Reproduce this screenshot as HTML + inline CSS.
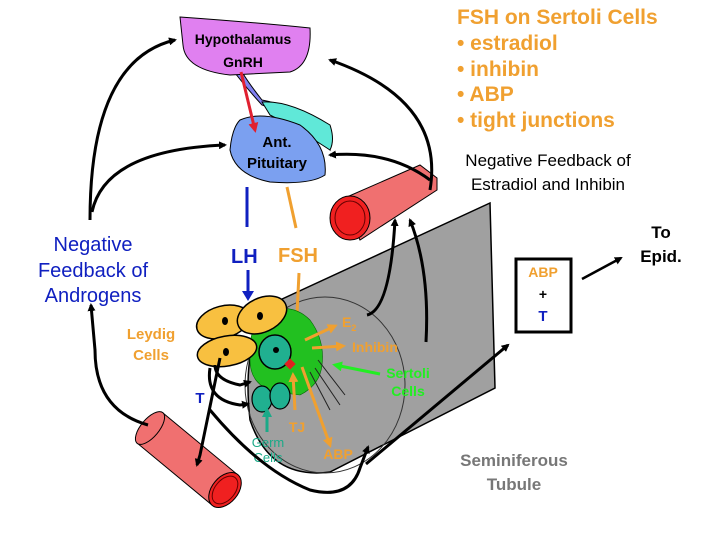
<!DOCTYPE html>
<html><head><style>
body{margin:0;background:#fff;width:720px;height:540px;overflow:hidden}
svg{display:block}
text{font-family:"Liberation Sans",Arial,sans-serif;font-weight:bold}
</style></head><body>
<svg width="720" height="540" viewBox="0 0 720 540" xmlns="http://www.w3.org/2000/svg">
<defs>
<marker id="ab" markerWidth="8" markerHeight="8" refX="6" refY="4" orient="auto" markerUnits="userSpaceOnUse"><path d="M0,0 L8,4 L0,8 Z" fill="#000"/></marker>
<marker id="ao" markerWidth="10" markerHeight="10" refX="7" refY="5" orient="auto" markerUnits="userSpaceOnUse"><path d="M0,0 L10,5 L0,10 Z" fill="#f0a030"/></marker>
<marker id="ar" markerWidth="10" markerHeight="10" refX="7" refY="5" orient="auto" markerUnits="userSpaceOnUse"><path d="M0,0 L10,5 L0,10 Z" fill="#e02030"/></marker>
<marker id="ag" markerWidth="10" markerHeight="10" refX="7" refY="5" orient="auto" markerUnits="userSpaceOnUse"><path d="M0,0 L10,5 L0,10 Z" fill="#22ee22"/></marker>
<marker id="an" markerWidth="10" markerHeight="10" refX="7" refY="5" orient="auto" markerUnits="userSpaceOnUse"><path d="M0,0 L10,5 L0,10 Z" fill="#1aaa88"/></marker>
<marker id="au" markerWidth="10" markerHeight="12" refX="7" refY="6" orient="auto" markerUnits="userSpaceOnUse"><path d="M0,0 L10,6 L0,12 Z" fill="#1020c0"/></marker>
</defs>
<!-- tubule -->
<path d="M490,203 L495,388 L330,472 Q270,480 250,420 Q240,330 280,300 Z" fill="#a0a0a0" stroke="#000" stroke-width="1.5"/>
<ellipse cx="325" cy="385" rx="80" ry="88" fill="none" stroke="#333" stroke-width="1"/>
<!-- vessels -->
<path d="M340,200 L420,165 L437,178 L437,190 L360,240 Z" fill="#f07070" stroke="#000"/>
<ellipse cx="350" cy="218" rx="20" ry="22" fill="#f02020" stroke="#000"/>
<ellipse cx="350" cy="218" rx="15" ry="17" fill="none" stroke="#600"/>
<path d="M163,413 L238,475 L212,505 L137,443 Z" fill="#f07070" stroke="#000"/>
<ellipse cx="150" cy="428" rx="9" ry="20" transform="rotate(40 150 428)" fill="#f07070" stroke="#000"/>
<ellipse cx="225" cy="490" rx="13" ry="20" transform="rotate(40 225 490)" fill="#f02020" stroke="#000"/>
<ellipse cx="225" cy="490" rx="10" ry="16" transform="rotate(40 225 490)" fill="none" stroke="#600"/>
<!-- hypothalamus/pituitary -->
<path d="M242,72 Q250,85 262,100 Q290,105 330,130 L330,150 Q300,120 275,110 L262,105 Q248,90 235,73 Z" fill="#8080f0" stroke="#000"/>
<path d="M262,102 Q290,100 330,125 Q335,140 330,150 Q300,130 270,115 Z" fill="#60e8d8" stroke="#000"/>
<path d="M180,17 Q250,22 310,28 Q312,65 290,72 L230,75 Q185,70 183,45 Z" fill="#e080f0" stroke="#000"/>
<path d="M240,120 Q262,110 300,125 Q328,145 325,175 Q310,185 270,182 Q235,175 230,150 Q232,128 240,120 Z" fill="#7ba0f0" stroke="#000"/>
<line x1="241" y1="72" x2="255" y2="130" stroke="#e02030" stroke-width="3" marker-end="url(#ar)"/>
<text x="243" y="44" font-size="14" text-anchor="middle">Hypothalamus</text>
<text x="243" y="67" font-size="14" text-anchor="middle">GnRH</text>
<text x="277" y="147" font-size="15" text-anchor="middle">Ant.</text>
<text x="277" y="168" font-size="15" text-anchor="middle">Pituitary</text>
<!-- LH FSH -->
<line x1="247" y1="187" x2="247" y2="227" stroke="#1020c0" stroke-width="3"/>
<line x1="248" y1="270" x2="248" y2="298" stroke="#1020c0" stroke-width="3" marker-end="url(#au)"/>
<line x1="287" y1="187" x2="296" y2="228" stroke="#f0a030" stroke-width="3"/>
<line x1="299" y1="273" x2="296" y2="335" stroke="#f0a030" stroke-width="3" marker-end="url(#ao)"/>
<text x="231" y="263" font-size="20" fill="#1020c0">LH</text>
<text x="278" y="262" font-size="20" fill="#f0a030">FSH</text>
<!-- sertoli green -->
<path d="M262,315 Q290,300 310,320 Q325,340 322,365 Q320,385 300,395 L275,392 Q250,385 250,360 Q248,330 262,315 Z" fill="#22c020" stroke="#060" stroke-width="0.6"/>
<path d="M318,360 L345,395 M315,368 L340,405 M310,372 L330,410" stroke="#222" stroke-width="1"/>
<!-- Leydig -->
<ellipse cx="223" cy="322" rx="27" ry="16" transform="rotate(-15 223 322)" fill="#f8c040" stroke="#000" stroke-width="1.5"/>
<ellipse cx="262" cy="315" rx="26" ry="17" transform="rotate(-25 262 315)" fill="#f8c040" stroke="#000" stroke-width="1.5"/>
<ellipse cx="227" cy="351" rx="30" ry="15" transform="rotate(-10 227 351)" fill="#f8c040" stroke="#000" stroke-width="1.5"/>
<ellipse cx="225" cy="321" rx="3" ry="4" fill="#000"/><ellipse cx="260" cy="316" rx="3" ry="4" fill="#000"/><ellipse cx="226" cy="352" rx="3" ry="4" fill="#000"/>
<!-- germ cells -->
<ellipse cx="275" cy="352" rx="16" ry="17" fill="#20b090" stroke="#000" stroke-width="1.5"/>
<circle cx="276" cy="350" r="3" fill="#000"/>
<ellipse cx="262" cy="399" rx="10" ry="13" fill="#20b090" stroke="#000" stroke-width="1.2"/>
<ellipse cx="280" cy="396" rx="10" ry="13" fill="#20b090" stroke="#000" stroke-width="1.2"/>
<rect x="286" y="360" width="8" height="8" fill="#e02020" transform="rotate(45 290 364)"/>
<!-- orange arrows -->
<line x1="305" y1="340" x2="335" y2="326" stroke="#f0a030" stroke-width="3" marker-end="url(#ao)"/>
<line x1="312" y1="348" x2="343" y2="346" stroke="#f0a030" stroke-width="3" marker-end="url(#ao)"/>
<line x1="302" y1="367" x2="330" y2="445" stroke="#f0a030" stroke-width="3" marker-end="url(#ao)"/>
<line x1="295" y1="410" x2="293" y2="375" stroke="#f0a030" stroke-width="3" marker-end="url(#ao)"/>
<line x1="380" y1="374" x2="335" y2="365" stroke="#22ee22" stroke-width="3" marker-end="url(#ag)"/>
<line x1="267" y1="432" x2="267" y2="410" stroke="#1aaa88" stroke-width="3" marker-end="url(#an)"/>
<text x="342" y="327" font-size="14" fill="#f0a030">E<tspan font-size="9" dy="4">2</tspan></text>
<text x="352" y="352" font-size="14" fill="#f0a030">Inhibin</text>
<text x="408" y="378" font-size="14" fill="#22ee22" text-anchor="middle">Sertoli</text>
<text x="408" y="396" font-size="14" fill="#22ee22" text-anchor="middle">Cells</text>
<text x="297" y="432" font-size="14" fill="#f0a030" text-anchor="middle">TJ</text>
<text x="338" y="459" font-size="14" fill="#f0a030" text-anchor="middle">ABP</text>
<text x="268" y="447" font-size="13" fill="#1aaa88" text-anchor="middle" style="font-weight:normal">Germ</text>
<text x="268" y="462" font-size="13" fill="#1aaa88" text-anchor="middle" style="font-weight:normal">Cells</text>
<!-- black arrows -->
<g fill="none" stroke="#000" stroke-width="3">
<path d="M215,365 Q215,380 240,385 L250,382" marker-end="url(#ab)"/>
<path d="M210,368 Q205,400 240,405 L248,404" marker-end="url(#ab)"/>
<path d="M220,358 L200,455 L197,465" marker-end="url(#ab)"/>
<path d="M210,410 Q260,470 310,490 Q350,500 360,468 L368,447" marker-end="url(#ab)"/>
<path d="M366,464 L508,345" marker-end="url(#ab)"/>
<path d="M367,315 Q390,310 395,220" marker-end="url(#ab)"/>
<path d="M426,342 Q430,270 410,220" marker-end="url(#ab)"/>
<path d="M430,190 Q445,100 330,60" marker-end="url(#ab)"/>
<path d="M430,180 Q390,150 330,155" marker-end="url(#ab)"/>
<path d="M90,220 Q90,60 175,40" marker-end="url(#ab)"/>
<path d="M92,212 Q105,150 225,145" marker-end="url(#ab)"/>
<path d="M148,425 Q95,410 95,350 L91,305" marker-end="url(#ab)"/>
<path d="M582,279 L621,258" stroke-width="2.5" marker-end="url(#ab)"/>
</g>
<rect x="516" y="259" width="55" height="73" fill="#fff" stroke="#000" stroke-width="3"/>
<text x="543" y="277" font-size="14" fill="#f0a030" text-anchor="middle">ABP</text>
<text x="543" y="299" font-size="14" text-anchor="middle">+</text>
<text x="543" y="321" font-size="15" fill="#1020c0" text-anchor="middle">T</text>
<text x="200" y="403" font-size="15" fill="#1020c0" text-anchor="middle">T</text>
<!-- labels -->
<text x="93" y="251" font-size="20" fill="#1020c0" text-anchor="middle" style="font-weight:normal">Negative</text>
<text x="93" y="277" font-size="20" fill="#1020c0" text-anchor="middle" style="font-weight:normal">Feedback of</text>
<text x="93" y="302" font-size="20" fill="#1020c0" text-anchor="middle" style="font-weight:normal">Androgens</text>
<text x="151" y="339" font-size="15" fill="#f0a030" text-anchor="middle">Leydig</text>
<text x="151" y="360" font-size="15" fill="#f0a030" text-anchor="middle">Cells</text>
<text x="548" y="166" font-size="17" text-anchor="middle" style="font-weight:normal">Negative Feedback of</text>
<text x="548" y="190" font-size="17" text-anchor="middle" style="font-weight:normal">Estradiol and Inhibin</text>
<text x="661" y="238" font-size="17" text-anchor="middle">To</text>
<text x="661" y="262" font-size="17" text-anchor="middle">Epid.</text>
<text x="514" y="466" font-size="17" fill="#777" text-anchor="middle">Seminiferous</text>
<text x="514" y="490" font-size="17" fill="#777" text-anchor="middle">Tubule</text>
<g font-size="21" fill="#f0a030"><text x="457" y="24">FSH on Sertoli Cells</text>
<text x="457" y="50">• estradiol</text><text x="457" y="76">• inhibin</text>
<text x="457" y="101">• ABP</text><text x="457" y="127">• tight junctions</text></g>
</svg>
</body></html>
